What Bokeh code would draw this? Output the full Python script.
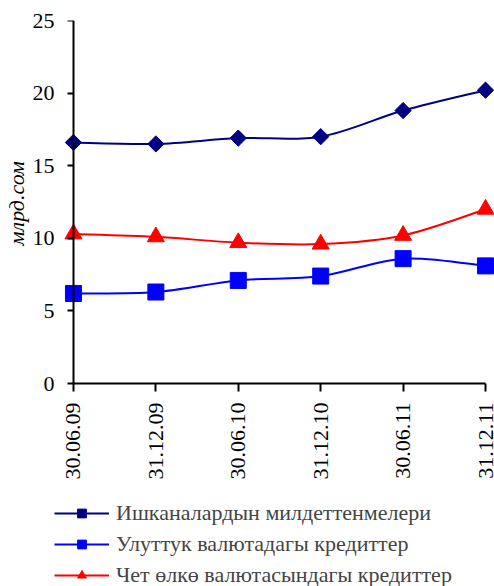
import numpy as np
from bokeh.plotting import figure
from bokeh.models import Range1d, LinearAxis, FixedTicker, Legend, LegendItem, Title
from bokeh.embed import file_html
from bokeh.resources import INLINE

dates = ["30.06.09", "31.12.09", "30.06.10", "31.12.10", "30.06.11", "31.12.11"]
enterprise = [16.6, 16.5, 16.9, 17.0, 18.8, 20.2]
national = [6.2, 6.3, 7.1, 7.4, 8.6, 8.1]
foreign = [10.3, 10.1, 9.7, 9.6, 10.2, 12.0]
y_ticks = [0, 5, 10, 15, 20, 25]
names = ["Ишканалардын милдеттенмелери",
         "Улуттук валютадагы кредиттер",
         "Чет өлкө валютасындагы кредиттер"]

FONT = "Liberation Serif"
xs = list(range(len(dates)))

# frame: x from page 53 to 494 (x=0 at 72, x=5 at 485); y from page 20 (25) to 586 (y=0 at 383)
p = figure(width=494, height=586, x_range=Range1d(-0.230, 5.109), y_range=Range1d(-13.98, 25),
           output_backend="svg", toolbar_location=None,
           x_axis_location=None, y_axis_location=None,
           min_border_left=53, min_border_right=0, min_border_top=20, min_border_bottom=0)
p.outline_line_color = None
p.xgrid.visible = False
p.ygrid.visible = False
p.background_fill_color = "white"


def style_axis(ax):
    ax.axis_line_color = "black"
    ax.axis_line_width = 2
    ax.major_tick_line_color = "black"
    ax.major_tick_line_width = 2
    ax.major_tick_out = 8
    ax.major_tick_in = 0
    ax.minor_tick_line_color = None
    ax.major_label_text_font = FONT
    ax.major_label_text_font_size = "22px"
    ax.major_label_text_color = "black"


xaxis = LinearAxis(ticker=FixedTicker(ticks=xs), fixed_location=0,
                   major_label_overrides={i: d for i, d in enumerate(dates)},
                   bounds=(0, 5), major_label_orientation=np.pi / 2,
                   major_label_standoff=11)
style_axis(xaxis)
p.add_layout(xaxis, "below")

# y axis line and ticks drawn at x = 0
yline = LinearAxis(ticker=FixedTicker(ticks=y_ticks), fixed_location=0, bounds=(0, 25))
style_axis(yline)
yline.major_tick_out = 6
yline.major_label_text_color = None
p.add_layout(yline, "left")

# y tick labels
ylab = LinearAxis(ticker=FixedTicker(ticks=y_ticks), major_label_standoff=0)
style_axis(ylab)
ylab.axis_line_color = None
ylab.major_tick_line_color = None
ylab.major_tick_out = 0
p.add_layout(ylab, "left")

# y axis title
ytitle = Title(text="млрд.сом", align="left", offset=341, standoff=2,
               text_font=FONT, text_font_style="italic", text_font_size="22px",
               text_color="black")
p.add_layout(ytitle, "left")


def smooth(ys):
    n = len(ys)
    P = list(zip(xs, ys))
    d = {k: [] for k in ["x0", "y0", "x1", "y1", "cx0", "cy0", "cx1", "cy1"]}
    for i in range(n - 1):
        pm = P[max(i - 1, 0)]
        p0 = P[i]
        p1 = P[i + 1]
        p2 = P[min(i + 2, n - 1)]
        d["x0"].append(p0[0]); d["y0"].append(p0[1])
        d["x1"].append(p1[0]); d["y1"].append(p1[1])
        d["cx0"].append(p0[0] + (p1[0] - pm[0]) / 6)
        d["cy0"].append(p0[1] + (p1[1] - pm[1]) / 6)
        d["cx1"].append(p1[0] - (p2[0] - p0[0]) / 6)
        d["cy1"].append(p1[1] - (p2[1] - p0[1]) / 6)
    return d


series = [
    (enterprise, "#000080", dict(marker="square", angle=np.pi / 4, size=11.5)),
    (national, "#0000FF", dict(marker="square", size=16)),
    (foreign, "#FF0000", dict(marker="triangle", size=17)),
]

items = []
for (ys, col, mk), name in zip(series, names):
    b = p.bezier(line_color=col, line_width=2, **smooth(ys))
    s = p.scatter(xs, ys, fill_color=col, line_color=col, **mk)
    items.append(LegendItem(label=name, renderers=[b, s]))

legend = Legend(items=items, location=(0, -2), orientation="vertical",
                glyph_width=55, glyph_height=22, label_height=22,
                label_text_font=FONT, label_text_font_size="22px",
                label_standoff=7, spacing=5, padding=0, margin=0,
                border_line_color=None, background_fill_alpha=0)
p.add_layout(legend, "center")

open("out.html", "w").write(file_html(p, INLINE))
